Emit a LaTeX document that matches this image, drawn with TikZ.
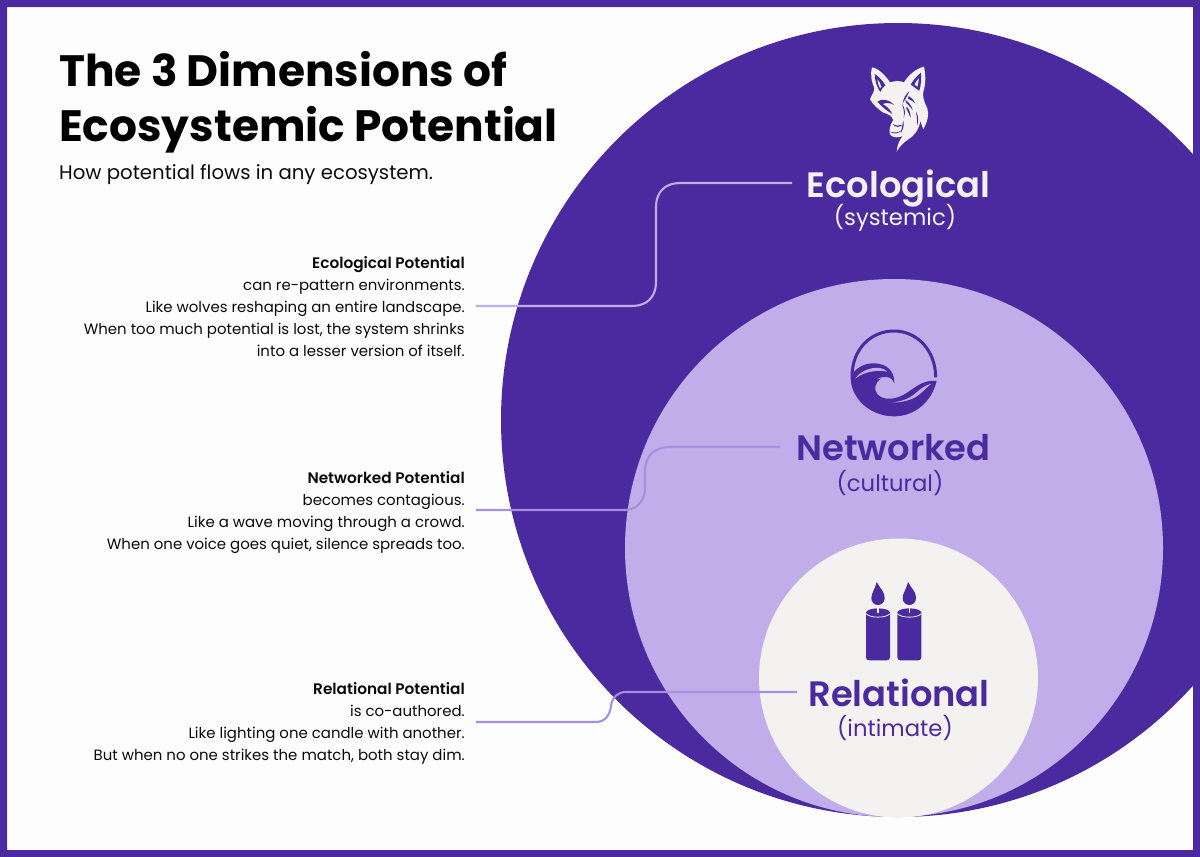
\documentclass[tikz,border=0pt]{standalone}
\usepackage{fontspec}
\setmainfont{Poppins}
\newfontfamily\bodyfont{Poppins}
\newfontfamily\headfont{Poppins SemiBold}
\definecolor{deep}{HTML}{4B2A9F}
\definecolor{lilac}{HTML}{C0ADE9}
\definecolor{pale}{HTML}{F3F2F0}
\definecolor{paper}{HTML}{FDFDFD}
\definecolor{wire}{HTML}{A68FE0}
\definecolor{wireb}{HTML}{C0AEEA}
\definecolor{ink}{HTML}{0B0B0B}
\newcommand{\deschead}[1]{{\fontsize{15.3}{22}\selectfont\headfont #1}}
\tikzset{
  x=1pt,y=-1pt,
  wirepath/.style={line width=2.1pt},
  desc/.style={anchor=north east,align=right,inner sep=0pt,text=ink,font=\fontsize{14.95}{22}\selectfont\bodyfont},
  dimname/.style={inner sep=0pt,font=\fontsize{35.3}{36}\selectfont\headfont},
  dimsub/.style={inner sep=0pt,font=\fontsize{22.7}{23}\selectfont\bodyfont},
}
\begin{document}
\begin{tikzpicture}
\useasboundingbox (0,0) rectangle (1200,857);
\fill[paper] (0,0) rectangle (1200,857);
\begin{scope}
\clip (0,0) rectangle (1200,857);
\fill[deep] (898,420) circle[radius=397];
\fill[lilac] (894,548) circle[radius=269];
\fill[pale] (898.5,678) circle[radius=139.5];
\end{scope}
\fill[deep,even odd rule] (0,0) rectangle (1200,857) (7,7) rectangle (1193,850);

% title
\node[anchor=north west,inner sep=0pt,text=black,align=left,font=\fontsize{43.9}{55}\selectfont\bfseries] (title) at (59,51.5) {The 3 Dimensions of\\Ecosystemic Potential};
\node[anchor=north west,inner sep=0pt,text=ink,font=\fontsize{19.7}{24}\selectfont\bodyfont] (subtitle) at (59,164) {How potential flows in any ecosystem.};

% descriptions
\node[desc] (ecotext) at (465,256.5) {\deschead{Ecological Potential}\\can re-pattern environments.\\Like wolves reshaping an entire landscape.\\When too much potential is lost, the system shrinks\\into a lesser version of itself.};
\node[desc] (nettext) at (465,471.5) {\deschead{Networked Potential}\\becomes contagious.\\Like a wave moving through a crowd.\\When one voice goes quiet, silence spreads too.};
\node[desc] (reltext) at (465,682.5) {\deschead{Relational Potential}\\is co-authored.\\Like lighting one candle with another.\\But when no one strikes the match, both stay dim.};

% labels
\node[dimname,text=pale] (eco) at (898.5,188) {Ecological};
\node[dimsub,text=pale] (ecosub) at (895,218) {(systemic)};
\node[dimname,text=deep] (net) at (893.5,447.5) {Networked};
\node[dimsub,text=deep] (netsub) at (890,483) {(cultural)};
\node[dimname,text=deep] (rel) at (899,692.5) {Relational};
\node[dimsub,text=deep] (relsub) at (895,728) {(intimate)};

% connector ends
\coordinate (e1) at (476,306);
\coordinate (n1) at (476,510);
\coordinate (r1) at (476,722);
\coordinate (e2) at (792,183);
\coordinate (n2) at (780,447);
\coordinate (r2) at (797,692);
\draw[wirepath,wireb] (e1) -- (632,306) .. controls (647,306) and (656,297) .. (656,282) -- (656,207) .. controls (656,192) and (665,183) .. (680,183) -- (e2);
\draw[wirepath,wire] (n1) -- (626,510) .. controls (638,509) and (645,500) .. (645,488) -- (645,472) .. controls (645,456) and (654,447) .. (670,447) -- (n2);
\draw[wirepath,wire] (r1) -- (596,722) .. controls (605,722) and (610,715) .. (611,706) .. controls (612,697) and (618,692) .. (626,692) -- (r2);

% wolf
\begin{scope}[shift={(840,50)},x=0.3333pt,y=-0.3333pt]
\fill[pale] (96,52) .. controls (115,55) and (135,75) .. (150,97) .. controls (165,92) and (180,92) .. (192,97)
 .. controls (205,75) and (230,55) .. (252,50) .. controls (257,75) and (258,100) .. (250,125)
 .. controls (248,140) and (250,150) .. (262,175) .. controls (268,195) and (262,215) .. (250,238)
 .. controls (245,228) and (245,220) .. (240,212) .. controls (240,235) and (225,255) .. (205,268)
 .. controls (190,278) and (178,290) .. (170,305) .. controls (172,285) and (178,270) .. (188,258)
 .. controls (175,264) and (160,264) .. (150,254) .. controls (146,240) and (150,225) .. (160,210)
 .. controls (155,197) and (145,192) .. (130,188) .. controls (115,178) and (100,165) .. (90,148)
 .. controls (95,135) and (103,125) .. (103,115) .. controls (95,95) and (90,75) .. (96,52) -- cycle;
\fill[deep] (104,72) .. controls (118,80) and (130,95) .. (136,106) .. controls (128,112) and (124,118) .. (121,126) .. controls (110,110) and (104,90) .. (104,72) -- cycle;
\fill[pale] (112,88) .. controls (118,95) and (122,102) .. (124,110) -- (120,115) .. controls (116,106) and (113,97) .. (112,88) -- cycle;
\fill[deep] (243,68) .. controls (230,78) and (220,90) .. (212,104) .. controls (222,110) and (230,118) .. (238,122) .. controls (243,105) and (245,85) .. (243,68) -- cycle;
\fill[pale] (236,85) .. controls (230,92) and (226,98) .. (224,104) -- (232,110) .. controls (235,102) and (236,94) .. (236,85) -- cycle;
% left eye
\fill[deep] (112,155) .. controls (125,146) and (145,146) .. (162,165) .. controls (150,158) and (140,158) .. (128,162) .. controls (140,168) and (150,178) .. (157,192) .. controls (140,182) and (125,170) .. (112,155) -- cycle;
\fill[pale] (130,162) .. controls (136,158) and (145,160) .. (150,168) .. controls (144,170) and (136,168) .. (130,162) -- cycle;
% brow and fur strokes on the right
\fill[deep] (208,124) .. controls (196,134) and (190,146) .. (188,160) .. controls (194,150) and (200,142) .. (208,124) -- cycle;
\fill[deep] (186,162) .. controls (191,176) and (194,190) .. (191,204) .. controls (197,190) and (196,175) .. (186,162) -- cycle;
\fill[deep] (196,150) .. controls (206,156) and (214,166) .. (218,180) .. controls (212,172) and (204,164) .. (198,158) -- cycle;
\fill[deep] (200,170) .. controls (208,178) and (212,190) .. (212,204) .. controls (208,194) and (204,184) .. (199,176) -- cycle;
\fill[deep] (206,138) .. controls (214,142) and (222,150) .. (226,160) .. controls (220,154) and (212,150) .. (204,146) -- cycle;
\fill[deep] (190,212) .. controls (193,225) and (190,238) .. (182,250) .. controls (185,238) and (187,225) .. (190,212) -- cycle;
\fill[deep] (228,184) .. controls (235,197) and (237,212) .. (232,228) .. controls (232,212) and (230,198) .. (228,184) -- cycle;
% muzzle
\fill[deep] (158,222) .. controls (168,228) and (178,228) .. (188,224) .. controls (180,233) and (165,233) .. (158,222) -- cycle;
\fill[deep] (150,245) .. controls (165,250) and (175,248) .. (186,240) .. controls (178,251) and (160,254) .. (150,245) -- cycle;
\end{scope}

% wave
\begin{scope}[shift={(830,320)},x=0.3333pt,y=-0.3333pt]
\draw[deep,line width=3pt] (317,172) .. controls (317,92) and (262,33) .. (192,33) .. controls (122,33) and (66,88) .. (66,170);
\fill[deep] (62,172) .. controls (72,148) and (100,128) .. (135,130) .. controls (168,132) and (194,150) .. (193,190)
 .. controls (188,172) and (168,165) .. (152,176) .. controls (136,187) and (130,208) .. (142,222)
 .. controls (158,242) and (195,240) .. (225,222) .. controls (255,203) and (280,178) .. (320,183)
 .. controls (305,245) and (255,289) .. (192,289) .. controls (120,289) and (62,235) .. (62,172) -- cycle;
\fill[lilac] (76,176) .. controls (88,156) and (120,140) .. (150,144) .. controls (160,146) and (168,150) .. (172,155) .. controls (150,149) and (105,152) .. (76,176) -- cycle;
\fill[lilac] (142,177) .. controls (155,168) and (175,170) .. (187,186) .. controls (172,177) and (155,174) .. (142,177) -- cycle;
\fill[lilac] (188,247) .. controls (225,243) and (245,231) .. (262,215) .. controls (275,203) and (290,195) .. (304,191) .. controls (285,206) and (270,227) .. (245,237) .. controls (225,245) and (205,248) .. (188,247) -- cycle;
\end{scope}

% candles
\begin{scope}[shift={(840,570)},x=0.3333pt,y=-0.3333pt]
\foreach \dx in {0,94} {
\begin{scope}[xshift=\dx*0.3333pt]
\fill[deep] (78,128) -- (78,262) .. controls (78,268) and (82,271) .. (88,271) -- (140,271) .. controls (146,271) and (150,268) .. (150,262) -- (150,128) -- cycle;
\fill[deep] (114,128) ellipse[x radius=36,y radius=13];
\draw[pale,line width=0.8pt] (78,131) .. controls (90,145) and (138,145) .. (150,131);
\fill[deep] (110,36) -- (120,52) .. controls (128,62) and (134,72) .. (134,85) .. controls (134,97) and (124,105) .. (114,105) .. controls (104,105) and (94,97) .. (94,85) .. controls (94,70) and (104,60) .. cycle;
\draw[pale,line width=1.2pt] (114,105) -- (114,130);
\end{scope}
}
\end{scope}
\end{tikzpicture}
\end{document}
